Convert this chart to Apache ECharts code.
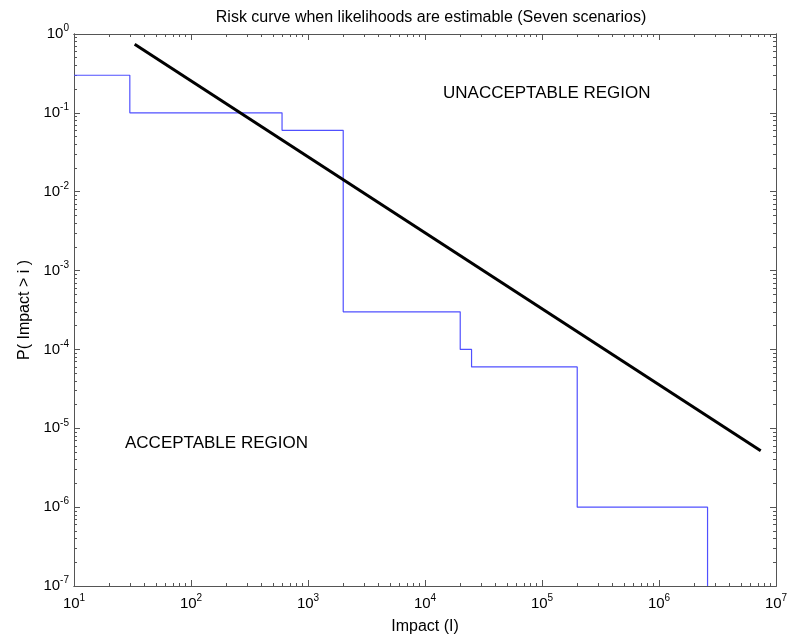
<!DOCTYPE html>
<html>
<head>
<meta charset="utf-8">
<script src="https://cdn.jsdelivr.net/npm/echarts@6/dist/echarts.min.js"></script>
<style>
  html, body { margin: 0; padding: 0; background: #fff; }
  #main { width: 798px; height: 636px; }
</style>
</head>
<body>
<div id="main"></div>
<script>
// blue step curve: impact where each step starts, and the probability held from there
const impactSteps = [10, 30, 600, 2000, 20000, 25000, 200000, 2600000];
const probSteps = [0.3, 0.1, 0.06, 3e-4, 1e-4, 6e-5, 1e-6, 1e-7];

// black acceptability line (straight on log-log)
const riskLineX = [33, 7.4e6];
const riskLineY = [0.74, 5.2e-6];

// axis ranges / tick positions
const xDecades = [10, 1e2, 1e3, 1e4, 1e5, 1e6, 1e7];
const yDecades = [1e-7, 1e-6, 1e-5, 1e-4, 1e-3, 1e-2, 1e-1, 1];
const minorMult = [2, 3, 4, 5, 6, 7, 8, 9];

const minorOf = (decades) => {
  const out = [];
  decades.slice(0, -1).forEach(d => minorMult.forEach(m => out.push(d * m)));
  return out;
};

const font = 'Liberation Sans, Arial, sans-serif';
const axisColor = '#555';

const powLabel = (v) => {
  const e = Math.round(Math.log10(v));
  return '{b|10}{s|' + e + '}';
};
const richLabel = {
  b: { fontSize: 15, fontFamily: font, color: '#000', verticalAlign: 'bottom', padding: [3, 0, 0, 0] },
  s: { fontSize: 10, fontFamily: font, color: '#000', verticalAlign: 'top' }
};

function makeAxis (pos, major, minor, withLabel, isX) {
  const ticks = minor ? minorOf(major) : major;
  return {
    type: 'log',
    logBase: 10,
    position: pos,
    min: major[0],
    max: major[major.length - 1],
    axisLine: { show: true, onZero: false, lineStyle: { color: axisColor, width: 1 } },
    axisTick: {
      show: true,
      inside: true,
      length: minor ? 3 : 6,
      customValues: ticks,
      lineStyle: { color: axisColor, width: 1 }
    },
    axisLabel: withLabel ? {
      show: true,
      customValues: major,
      formatter: powLabel,
      rich: richLabel,
      margin: isX ? 7 : 5,
      padding: isX ? 0 : [0, 0, 3, 0]
    } : { show: false },
    splitLine: { show: false },
    minorTick: { show: false },
    silent: true
  };
}

const chart = echarts.init(document.getElementById('main'), null, { renderer: 'canvas' });

const xAxis = [
  makeAxis('bottom', xDecades, false, true, true),
  makeAxis('bottom', xDecades, true, false, true),
  makeAxis('top', xDecades, false, false, true),
  makeAxis('top', xDecades, true, false, true)
];
const yAxis = [
  makeAxis('left', yDecades, false, true, false),
  makeAxis('left', yDecades, true, false, false),
  makeAxis('right', yDecades, false, false, false),
  makeAxis('right', yDecades, true, false, false)
];
xAxis[0].name = 'Impact (I)';
xAxis[0].nameLocation = 'middle';
xAxis[0].nameGap = 33;
xAxis[0].nameTextStyle = { fontSize: 16, fontFamily: font, color: '#000' };
yAxis[0].name = 'P( Impact > i )';
yAxis[0].nameLocation = 'middle';
yAxis[0].nameGap = 34;
yAxis[0].nameTextStyle = { fontSize: 16, fontFamily: font, color: '#000' };

const option = {
  backgroundColor: '#fff',
  animation: false,
  title: {
    text: 'Risk curve when likelihoods are estimable (Seven scenarios)',
    left: 426,
    top: 5,
    textAlign: 'center',
    textStyle: { fontSize: 16, fontWeight: 'normal', fontFamily: font, color: '#000' }
  },
  grid: { left: 74, right: 22, top: 34, bottom: 50, containLabel: false, outerBoundsMode: 'none' },
  xAxis: xAxis,
  yAxis: yAxis,
  series: [
    {
      type: 'line',
      step: 'end',
      data: impactSteps.map((x, i) => [x, probSteps[i]]),
      showSymbol: false,
      lineStyle: { color: '#5050ff', width: 1.2 },
      clip: true
    },
    {
      type: 'line',
      data: riskLineX.map((x, i) => [x, riskLineY[i]]),
      showSymbol: false,
      lineStyle: { color: '#000', width: 3 }
    }
  ],
  graphic: [
    {
      type: 'text', left: 443, top: 85,
      style: { text: 'UNACCEPTABLE REGION', fontSize: 17, fontFamily: font, fill: '#000' }
    },
    {
      type: 'text', left: 125, top: 435,
      style: { text: 'ACCEPTABLE REGION', fontSize: 17, fontFamily: font, fill: '#000' }
    }
  ]
};

chart.setOption(option);
</script>
</body>
</html>
